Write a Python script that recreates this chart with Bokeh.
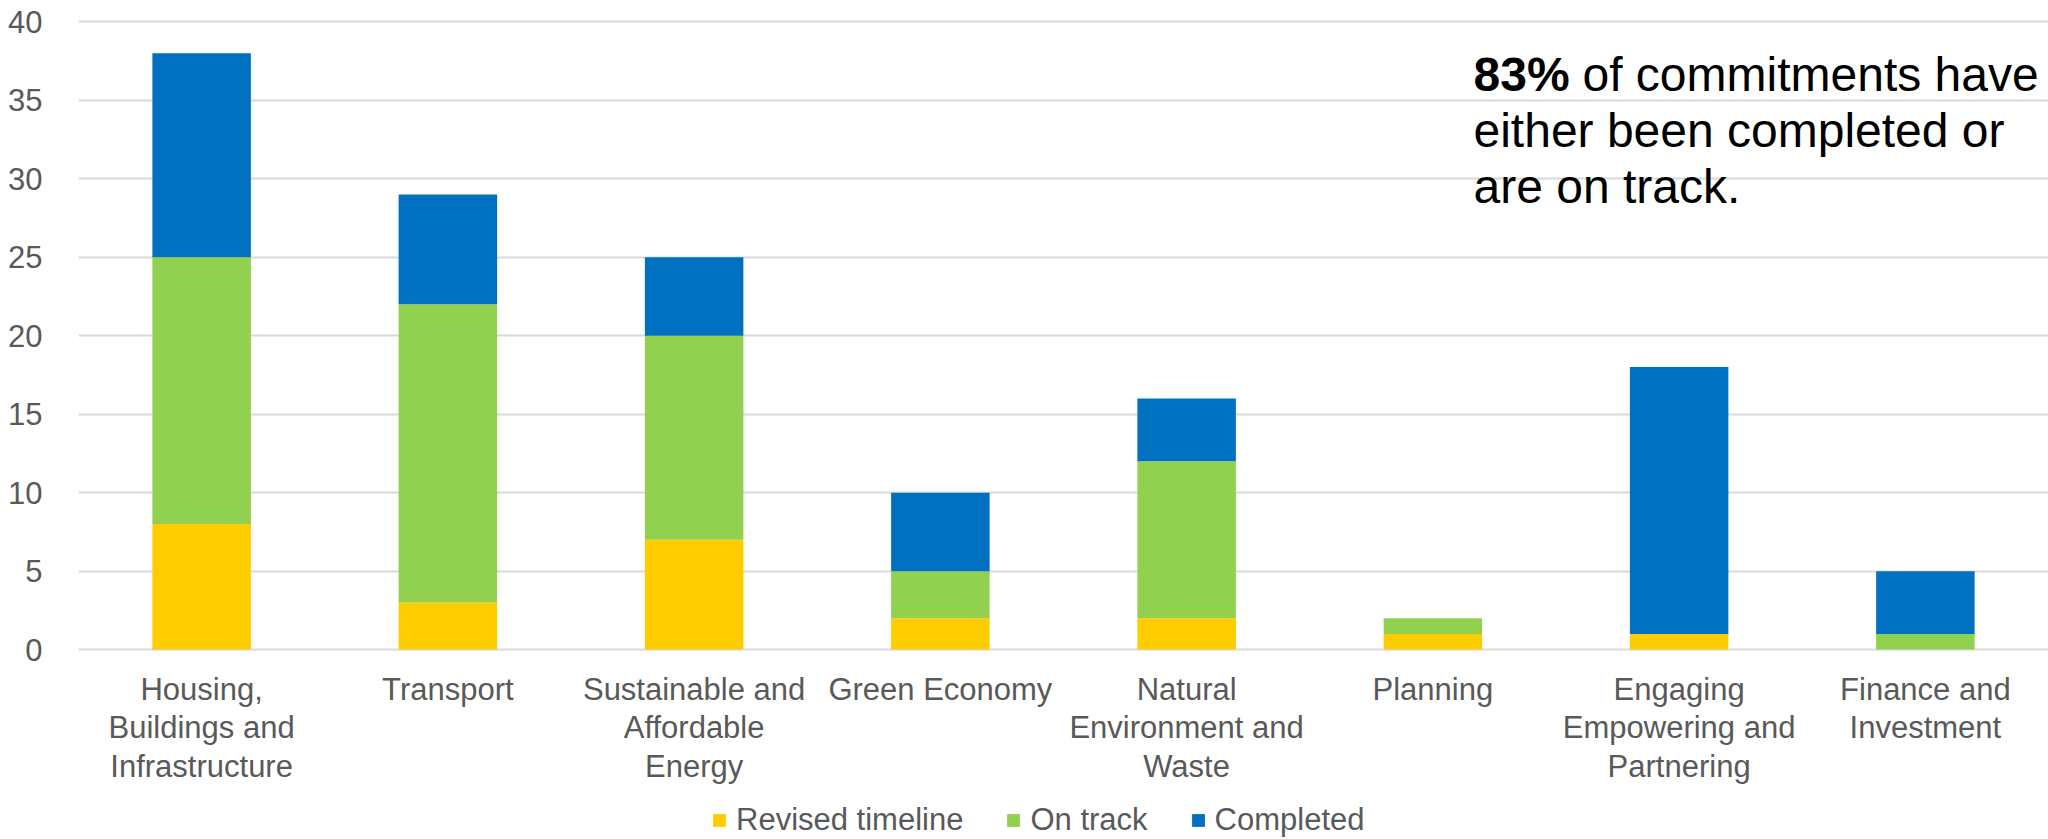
from bokeh.plotting import figure
from bokeh.models import (FactorRange, Range1d, FixedTicker, Legend, LegendItem, Label)
from bokeh.embed import file_html
from bokeh.resources import INLINE

categories = [
    "Housing,\nBuildings and\nInfrastructure",
    "Transport",
    "Sustainable and\nAffordable\nEnergy",
    "Green Economy",
    "Natural\nEnvironment and\nWaste",
    "Planning",
    "Engaging\nEmpowering and\nPartnering",
    "Finance and\nInvestment",
]
revised_timeline = [8, 3, 7, 2, 2, 1, 1, 0]
on_track = [17, 19, 13, 3, 10, 1, 0, 1]
completed = [13, 7, 5, 5, 4, 0, 17, 4]
y_ticks = [0, 5, 10, 15, 20, 25, 30, 35, 40]
series_names = ["Revised timeline", "On track", "Completed"]
series_colors = ["#FFCC00", "#92D050", "#0070C0"]

FONT = "Liberation Sans"
GREY = "#595959"
FS = "31px"

data = {"cat": categories, "revised": revised_timeline, "ontrack": on_track, "completed": completed}

# frame runs to the bottom of the canvas; the space below 0 holds the category labels and legend
p = figure(x_range=FactorRange(factors=categories), y_range=Range1d(-12.1, 40.15),
           width=2048, height=839, output_backend="svg", toolbar_location=None,
           min_border_left=78, min_border_right=0, min_border_top=19, min_border_bottom=0)
p.outline_line_color = None
p.background_fill_color = "white"

renderers = p.vbar_stack(["revised", "ontrack", "completed"], x="cat", width=0.4,
                         color=series_colors, line_color=None, source=data)

# axes
p.yaxis.ticker = FixedTicker(ticks=y_ticks)
p.xaxis.fixed_location = 0
for ax in (p.xaxis[0], p.yaxis[0]):
    ax.axis_line_color = None
    ax.major_tick_line_color = None
    ax.minor_tick_line_color = None
    ax.major_label_text_font = FONT
    ax.major_label_text_font_size = FS
    ax.major_label_text_color = GREY
p.yaxis.major_label_standoff = 30
p.xaxis.major_label_standoff = 16
p.xaxis.major_label_text_line_height = 1.1

p.xgrid.grid_line_color = None
p.ygrid.grid_line_color = "#D9D9D9"
p.ygrid.grid_line_width = 2

legend = Legend(items=[LegendItem(label=n, renderers=[r]) for n, r in zip(series_names, renderers)],
                orientation="horizontal", location=(633, 1),
                glyph_width=16, glyph_height=16, label_standoff=9, spacing=42,
                padding=0, margin=0, border_line_color=None, background_fill_alpha=0,
                label_text_font=FONT, label_text_font_size=FS, label_text_color=GREY)
p.add_layout(legend, "center")

# annotation
ax_x = 5.665
ax_y = 35.73
lines = ["either been completed or", "are on track."]
p.add_layout(Label(x=ax_x, y=ax_y, y_offset=14, text="83%", text_font=FONT, text_font_style="bold",
                   text_font_size="48px", text_color="black", text_baseline="alphabetic"))
p.add_layout(Label(x=ax_x, y=ax_y, x_offset=109, y_offset=14, text="of commitments have", text_font=FONT,
                   text_font_size="48px", text_color="black", text_baseline="alphabetic"))
for i, t in enumerate(lines):
    p.add_layout(Label(x=ax_x, y=ax_y, y_offset=14 - 56 * (i + 1), text=t, text_font=FONT,
                       text_font_size="48px", text_color="black", text_baseline="alphabetic"))

open("out.html", "w").write(file_html(p, INLINE))
